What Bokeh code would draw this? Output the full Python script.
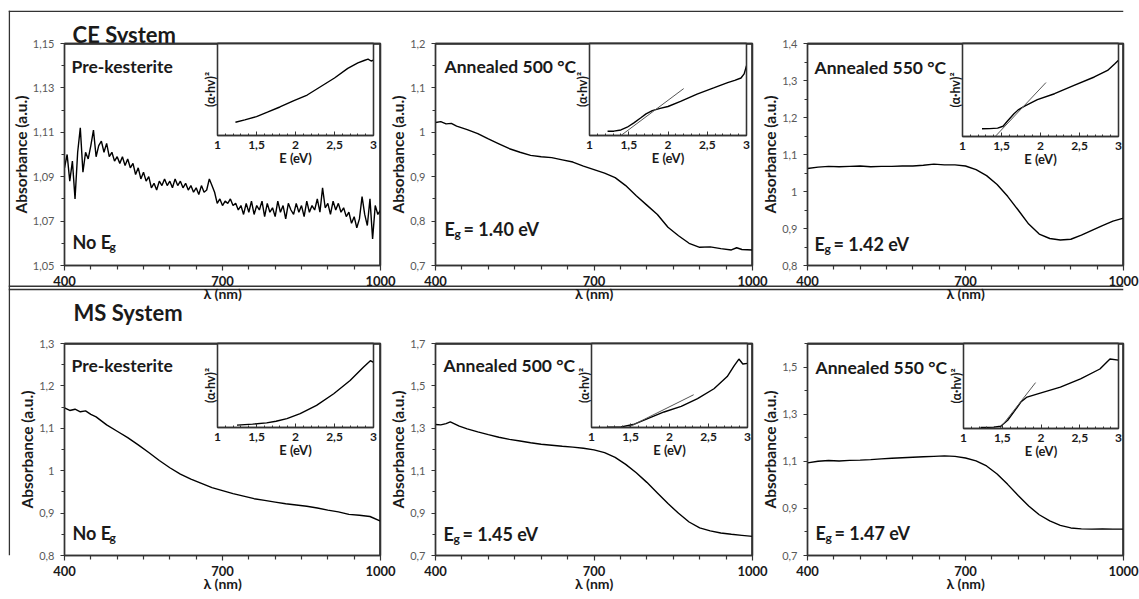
from bokeh.plotting import figure
from bokeh.models import (Range1d, FixedTicker, CustomJSTickFormatter, Label, GridBox, Span, LinearAxis)
from bokeh.embed import file_html
from bokeh.resources import INLINE

FONT = "Lato"
INK = "#1a1a1a"
AXC = "#333333"
GRAY = "#595959"

# ---------------- data: main spectra (wavelength nm, absorbance a.u.) ----------------
wl_ce_pre = list(range(400, 1001, 5))
ab_ce_pre = [
    1.094, 1.100, 1.088, 1.097, 1.080, 1.101, 1.112, 1.092, 1.101, 1.098,
    1.104, 1.111, 1.099, 1.104, 1.106, 1.101, 1.105, 1.099, 1.101, 1.097,
    1.099, 1.096, 1.099, 1.095, 1.098, 1.094, 1.096, 1.091, 1.094, 1.089,
    1.092, 1.088, 1.090, 1.085, 1.087, 1.084, 1.088, 1.086, 1.089, 1.086,
    1.088, 1.085, 1.089, 1.086, 1.088, 1.085, 1.087, 1.084, 1.086, 1.083,
    1.085, 1.082, 1.086, 1.083, 1.084, 1.089, 1.086, 1.083, 1.078, 1.080,
    1.077, 1.079, 1.078, 1.080, 1.077, 1.078, 1.075, 1.077, 1.073, 1.078,
    1.074, 1.079, 1.073, 1.077, 1.075, 1.079, 1.072, 1.078, 1.074, 1.076,
    1.072, 1.079, 1.074, 1.077, 1.071, 1.078, 1.075, 1.073, 1.078, 1.074,
    1.077, 1.072, 1.079, 1.074, 1.077, 1.075, 1.080, 1.074, 1.085, 1.076,
    1.078, 1.073, 1.079, 1.075, 1.078, 1.074, 1.076, 1.072, 1.074, 1.069,
    1.072, 1.067, 1.071, 1.081, 1.073, 1.068, 1.080, 1.062, 1.077, 1.073,
    1.075,
]

wl_ce_500 = [400, 410, 420, 430, 440, 460, 480, 500, 520, 540, 560, 580, 600, 620, 640, 660,
             680, 700, 720, 740, 760, 780, 800, 820, 840, 860, 880, 900, 920, 940, 960, 970, 980, 1000]
ab_ce_500 = [1.022, 1.024, 1.019, 1.020, 1.014, 1.006, 0.997, 0.985, 0.974, 0.963, 0.955, 0.948,
             0.945, 0.943, 0.938, 0.933, 0.924, 0.916, 0.908, 0.898, 0.880, 0.857, 0.836, 0.815,
             0.786, 0.767, 0.750, 0.741, 0.742, 0.738, 0.735, 0.740, 0.736, 0.735]

wl_ce_550 = [400, 420, 440, 460, 480, 500, 520, 540, 560, 580, 600, 620, 640, 660, 680, 700,
             720, 740, 760, 780, 800, 820, 840, 860, 880, 900, 920, 940, 960, 980, 1000]
ab_ce_550 = [1.062, 1.066, 1.068, 1.067, 1.068, 1.069, 1.067, 1.068, 1.068, 1.069, 1.069, 1.071,
             1.074, 1.072, 1.072, 1.069, 1.059, 1.043, 1.019, 0.987, 0.950, 0.912, 0.885, 0.873,
             0.869, 0.871, 0.882, 0.895, 0.908, 0.920, 0.928]

wl_ms_pre = [400, 410, 420, 430, 440, 450, 460, 480, 500, 520, 540, 560, 580, 600, 620, 640, 660,
             680, 700, 720, 740, 760, 780, 800, 820, 840, 860, 880, 900, 920, 940, 960, 980, 1000]
ab_ms_pre = [1.148, 1.142, 1.145, 1.139, 1.141, 1.133, 1.127, 1.108, 1.093, 1.078, 1.061, 1.043,
             1.024, 1.007, 0.992, 0.980, 0.970, 0.960, 0.953, 0.946, 0.940, 0.934, 0.930, 0.926,
             0.922, 0.919, 0.916, 0.912, 0.907, 0.903, 0.897, 0.895, 0.892, 0.881]

wl_ms_500 = [400, 410, 420, 428, 435, 445, 460, 480, 500, 520, 540, 560, 580, 600, 620, 640, 660,
             680, 700, 720, 740, 760, 780, 800, 820, 840, 860, 880, 900, 920, 940, 960, 980, 1000]
ab_ms_500 = [1.318, 1.316, 1.322, 1.330, 1.322, 1.310, 1.297, 1.283, 1.270, 1.258, 1.248, 1.240,
             1.232, 1.225, 1.220, 1.215, 1.211, 1.206, 1.198, 1.185, 1.163, 1.130, 1.090, 1.045,
             0.995, 0.945, 0.899, 0.858, 0.830, 0.816, 0.806, 0.800, 0.795, 0.790]

wl_ms_550 = [400, 420, 440, 460, 480, 500, 520, 540, 560, 580, 600, 620, 640, 660, 680, 700,
             720, 740, 760, 780, 800, 820, 840, 860, 880, 900, 920, 940, 960, 980, 1000]
ab_ms_550 = [1.093, 1.100, 1.103, 1.101, 1.104, 1.105, 1.107, 1.110, 1.113, 1.115, 1.117, 1.119,
             1.121, 1.123, 1.121, 1.114, 1.102, 1.080, 1.046, 1.002, 0.955, 0.910, 0.873, 0.847,
             0.828, 0.817, 0.813, 0.812, 0.813, 0.812, 0.812]

# ---------------- data: Tauc insets (E eV, (alpha*hv)^2 normalised) ----------------
e_ce_pre = [1.23, 1.35, 1.50, 1.64, 1.80, 1.98, 2.15, 2.32, 2.50, 2.67, 2.80, 2.88, 2.93, 2.97, 3.00]
t_ce_pre = [0.144, 0.170, 0.205, 0.253, 0.310, 0.379, 0.440, 0.530, 0.625, 0.730, 0.790, 0.815, 0.830, 0.810, 0.820]

e_ce_500 = [1.23, 1.31, 1.40, 1.48, 1.57, 1.65, 1.72, 1.80, 1.90, 2.00, 2.16, 2.37, 2.59, 2.76, 2.85, 2.93, 2.97, 3.00]
t_ce_500 = [0.047, 0.047, 0.060, 0.090, 0.140, 0.190, 0.235, 0.270, 0.295, 0.315, 0.370, 0.450, 0.520, 0.575, 0.600, 0.625, 0.670, 0.760]
tan_e_ce_500 = [1.15, 2.20]
tan_t_ce_500 = [-0.16, 0.51]

e_ce_550 = [1.25, 1.35, 1.45, 1.52, 1.58, 1.66, 1.72, 1.79, 1.96, 2.18, 2.43, 2.69, 2.86, 2.95, 3.00]
t_ce_550 = [0.083, 0.085, 0.090, 0.110, 0.170, 0.245, 0.290, 0.324, 0.396, 0.460, 0.550, 0.640, 0.710, 0.780, 0.820]
tan_e_ce_550 = [1.24, 2.07]
tan_t_ce_550 = [-0.16, 0.58]

e_ms_pre = [1.25, 1.45, 1.63, 1.75, 1.89, 2.06, 2.27, 2.49, 2.70, 2.87, 2.96, 3.00]
t_ms_pre = [0.028, 0.040, 0.055, 0.075, 0.106, 0.165, 0.264, 0.402, 0.559, 0.717, 0.795, 0.776]

e_ms_500 = [1.20, 1.38, 1.55, 1.72, 1.93, 2.15, 2.36, 2.57, 2.74, 2.83, 2.89, 2.94, 3.00]
t_ms_500 = [0.005, 0.008, 0.039, 0.106, 0.185, 0.252, 0.343, 0.461, 0.606, 0.736, 0.815, 0.756, 0.764]
tan_e_ms_500 = [1.25, 2.31]
tan_t_ms_500 = [-0.10, 0.39]

e_ms_550 = [1.22, 1.39, 1.48, 1.57, 1.65, 1.74, 1.82, 1.99, 2.25, 2.51, 2.76, 2.89, 3.00]
t_ms_550 = [0.012, 0.016, 0.027, 0.097, 0.195, 0.311, 0.370, 0.416, 0.486, 0.584, 0.700, 0.817, 0.805]
tan_e_ms_550 = [1.34, 1.93]
tan_t_ms_550 = [-0.15, 0.54]

# ---------------- texts and ticks ----------------
row_titles = ["CE System", "MS System"]
panel_titles = ["Pre-kesterite", "Annealed 500 °C", "Annealed 550 °C",
                "Pre-kesterite", "Annealed 500 °C", "Annealed 550 °C"]
eg_values = [None, "1.40", "1.42", None, "1.45", "1.47"]

x_major = [400, 700, 1000]
x_labels = ["400", "700", "1000"]
x_minor = [450, 500, 550, 600, 650, 750, 800, 850, 900, 950]

y_ticks = [
    ([1.05, 1.07, 1.09, 1.11, 1.13, 1.15], ["1,05", "1,07", "1,09", "1,11", "1,13", "1,15"], [1.06, 1.08, 1.10, 1.12, 1.14]),
    ([0.7, 0.8, 0.9, 1.0, 1.1, 1.2], ["0,7", "0,8", "0,9", "1", "1,1", "1,2"], [0.75, 0.85, 0.95, 1.05, 1.15]),
    ([0.8, 0.9, 1.0, 1.1, 1.2, 1.3, 1.4], ["0,8", "0,9", "1", "1,1", "1,2", "1,3", "1,4"], [0.85, 0.95, 1.05, 1.15, 1.25, 1.35]),
    ([0.8, 0.9, 1.0, 1.1, 1.2, 1.3], ["0,8", "0,9", "1", "1,1", "1,2", "1,3"], [0.85, 0.95, 1.05, 1.15, 1.25]),
    ([0.7, 0.9, 1.1, 1.3, 1.5, 1.7], ["0,7", "0,9", "1,1", "1,3", "1,5", "1,7"], [0.8, 1.0, 1.2, 1.4, 1.6]),
    ([0.7, 0.9, 1.1, 1.3, 1.5], ["0,7", "0,9", "1,1", "1,3", "1,5"], [0.8, 1.0, 1.2, 1.4, 1.6]),
]
y_ranges = [(1.05, 1.15), (0.7, 1.2), (0.8, 1.4), (0.8, 1.3), (0.7, 1.7), (0.7, 1.6)]
x_range_main = (400, 1000)

e_major = [1, 1.5, 2, 2.5, 3]
e_labels = ["1", "1,5", "2", "2,5", "3"]
e_minor = [1.1, 1.2, 1.3, 1.4, 1.6, 1.7, 1.8, 1.9, 2.1, 2.2, 2.3, 2.4, 2.6, 2.7, 2.8, 2.9]

W_TOTAL, H_TOTAL = 1139, 599


def fmt(tv, tl):
    return CustomJSTickFormatter(args=dict(tvals=list(tv), tlabs=list(tl)), code="""
        for (let i = 0; i < tvals.length; i++) {
            if (Math.abs(tick - tvals[i]) < 1e-6) { return tlabs[i]; }
        }
        return "";
    """)


def lab(text, x, y, dx, dy, size, color=INK):
    return Label(x=x, y=y, x_offset=dx, y_offset=dy, text=text, text_font=FONT,
                 text_font_size=size, text_font_style="bold", text_color=color,
                 text_baseline="alphabetic", text_align="left")


def style_common(p):
    p.border_fill_color = "white"
    p.border_fill_alpha = 0.0
    p.background_fill_color = "white"
    p.background_fill_alpha = 1.0
    p.outline_line_color = AXC
    p.outline_line_width = 1.3
    p.xgrid.visible = False
    p.ygrid.visible = False


def edge_axes(p):
    # plain top and right frame edges (no ticks, no labels)
    for loc in ("above", "right"):
        ax = LinearAxis(ticker=FixedTicker(ticks=[]), axis_line_color=AXC, axis_line_width=1.3,
                        major_tick_line_color=None, minor_tick_line_color=None,
                        major_label_text_font_size="0px", major_label_standoff=0,
                        major_tick_out=0, minor_tick_out=0)
        p.add_layout(ax, loc)


def main_panel(rect, frame, idx, wl, ab):
    fx0, fy0, fx1, fy1 = rect
    l, t, r, b = frame
    xa0, xa1 = x_range_main
    y0, y1 = y_ranges[idx]
    yt, yl, ym = y_ticks[idx]
    p = figure(width=fx1 - fx0, height=fy1 - fy0, x_range=Range1d(xa0, xa1), y_range=Range1d(y0, y1),
               output_backend="svg", toolbar_location=None,
               min_border_left=l - fx0, min_border_right=fx1 - r,
               min_border_top=t - fy0, min_border_bottom=fy1 - b)
    style_common(p)

    xa = p.xaxis[0]
    xa.ticker = FixedTicker(ticks=x_major, minor_ticks=x_minor)
    xa.formatter = fmt(x_major, x_labels)
    xa.axis_label = "λ (nm)"
    xa.axis_label_text_font = FONT
    xa.axis_label_text_font_size = "14px"
    xa.axis_label_text_font_style = "bold"
    xa.axis_label_text_color = INK
    xa.axis_label_standoff = -4
    xa.major_label_text_font = FONT
    xa.major_label_text_font_size = "13px"
    xa.major_label_text_font_style = "bold"
    xa.major_label_text_color = INK
    xa.major_label_standoff = 5
    xa.major_tick_in = 0
    xa.major_tick_out = 5
    xa.minor_tick_in = 0
    xa.minor_tick_out = 4
    xa.axis_line_color = AXC
    xa.axis_line_width = 1.5
    xa.major_tick_line_color = AXC
    xa.minor_tick_line_color = AXC
    xa.major_tick_line_width = 1.2
    xa.minor_tick_line_width = 1.2

    ya = p.yaxis[0]
    ya.ticker = FixedTicker(ticks=yt, minor_ticks=ym)
    ya.formatter = fmt(yt, yl)
    ya.axis_label = "Absorbance (a.u.)"
    ya.axis_label_text_font = FONT
    ya.axis_label_text_font_size = "15.5px"
    ya.axis_label_text_font_style = "bold"
    ya.axis_label_text_color = INK
    ya.axis_label_standoff = 0
    ya.major_label_text_font = FONT
    ya.major_label_text_font_size = "11px"
    ya.major_label_text_color = GRAY
    ya.major_label_standoff = 6
    ya.major_tick_in = 0
    ya.major_tick_out = 4
    ya.minor_tick_in = 0
    ya.minor_tick_out = 3
    ya.axis_line_color = AXC
    ya.axis_line_width = 1.5
    ya.major_tick_line_color = AXC
    ya.minor_tick_line_color = AXC

    edge_axes(p)

    # top and right frame edges, kept just inside the plotting area so they are not clipped
    ex = (xa1 - xa0) / (r - l) * 0.7
    ey = (y1 - y0) / (b - t) * 0.7
    p.segment(x0=[xa0, xa1 - ex], y0=[y1 - ey, y0], x1=[xa1, xa1 - ex], y1=[y1 - ey, y1],
              line_color=AXC, line_width=1.3)

    p.line(wl, ab, line_color="black", line_width=1.4)

    tdx = [7, 9, 7, 7, 8, 8][idx]
    tdy = [23, 23, 24, 22, 22, 24][idx]
    p.add_layout(lab(panel_titles[idx], xa0, y1, tdx, -tdy, "17.5px"))

    edx = [8, 9, 7, 8, 8, 8][idx]
    edy = [24, 37, 22, 23, 22, 23][idx]
    if eg_values[idx] is None:
        p.add_layout(lab("No E", xa0, y0, edx, edy, "18px"))
        p.add_layout(lab("g", xa0, y0, edx + 37, edy - 5, "12px"))
    else:
        p.add_layout(lab("E", xa0, y0, edx, edy, "18px"))
        p.add_layout(lab("g", xa0, y0, edx + 10, edy - 5, "12px"))
        p.add_layout(lab("= " + eg_values[idx] + " eV", xa0, y0, edx + 19, edy, "18px"))
    return p


def inset_panel(frame, E, T, tE=None, tT=None):
    l, t, r, b = frame
    ml, mr, mt, mb = 22, 8, 2, 38
    p = figure(width=(r - l) + ml + mr, height=(b - t) + mt + mb, x_range=Range1d(1, 3), y_range=Range1d(0, 1),
               output_backend="svg", toolbar_location=None,
               min_border_left=ml, min_border_right=mr, min_border_top=mt, min_border_bottom=mb)
    style_common(p)

    xa = p.xaxis[0]
    xa.ticker = FixedTicker(ticks=e_major, minor_ticks=e_minor)
    xa.formatter = fmt(e_major, e_labels)
    xa.axis_label = "E (eV)"
    xa.axis_label_text_font = FONT
    xa.axis_label_text_font_size = "13px"
    xa.axis_label_text_font_style = "bold"
    xa.axis_label_text_color = INK
    xa.axis_label_standoff = -2
    xa.major_label_text_font = FONT
    xa.major_label_text_font_size = "12px"
    xa.major_label_text_font_style = "bold"
    xa.major_label_text_color = INK
    xa.major_label_standoff = 5
    xa.major_tick_in = 4
    xa.major_tick_out = 0
    xa.minor_tick_in = 2
    xa.minor_tick_out = 0
    xa.axis_line_color = AXC
    xa.axis_line_width = 1.3
    xa.major_tick_line_color = AXC
    xa.minor_tick_line_color = AXC

    ya = p.yaxis[0]
    ya.ticker = FixedTicker(ticks=[])
    ya.axis_label = "(α·hv)²"
    ya.axis_label_text_font = FONT
    ya.axis_label_text_font_size = "12.5px"
    ya.axis_label_text_font_style = "bold"
    ya.axis_label_text_color = INK
    ya.axis_label_standoff = 0
    ya.axis_line_color = AXC
    ya.axis_line_width = 1.3

    edge_axes(p)

    p.line(E, T, line_color="black", line_width=1.4)
    if tE is not None:
        p.line(tE, tT, line_color="#555555", line_width=1.0)
    return p, (l - ml, t - mt, r + mr, b + mb)


# ---------------- background boxes ----------------
# frame of this figure starts at page (8, 10); y measured upward from the page bottom
bg = figure(width=W_TOTAL, height=H_TOTAL, x_range=Range1d(8, W_TOTAL), y_range=Range1d(0, H_TOTAL - 10),
            x_axis_type=None, y_axis_type=None, output_backend="svg", toolbar_location=None,
            min_border_left=8, min_border_right=0, min_border_top=10, min_border_bottom=0)
bg.outline_line_color = None
bg.border_fill_color = "white"
bg.background_fill_color = "white"
for loc in [H_TOTAL - 10.8, H_TOTAL - 308, H_TOTAL - 311.5]:
    bg.add_layout(Span(location=loc, dimension="width", line_color="#333333", line_width=1.5))
bg.add_layout(Span(location=8.8, dimension="height", line_color="#333333", line_width=1.5))
bg.add_layout(Label(x=73, y=H_TOTAL - 36, text=row_titles[0], text_font=FONT, text_font_size="22px",
                    text_font_style="bold", text_color=INK, text_baseline="alphabetic"))
bg.add_layout(Label(x=74, y=H_TOTAL - 336, text=row_titles[1], text_font=FONT, text_font_size="22px",
                    text_font_style="bold", text_color=INK, text_baseline="alphabetic"))

# ---------------- panels (page pixel rectangles) ----------------
mains = [
    ((8, 34, 408, 307), (61, 43, 380, 266), wl_ce_pre, ab_ce_pre),
    ((384, 34, 778, 307), (432, 43, 752, 265), wl_ce_500, ab_ce_500),
    ((758, 34, 1139, 307), (806, 43, 1123, 265), wl_ce_550, ab_ce_550),
    ((8, 334, 408, 599), (62, 343, 380, 556), wl_ms_pre, ab_ms_pre),
    ((384, 334, 778, 599), (435, 343, 753, 555), wl_ms_500, ab_ms_500),
    ((758, 334, 1139, 599), (806, 343, 1124, 556), wl_ms_550, ab_ms_550),
]
insets = [
    ((217, 43, 373, 135), e_ce_pre, t_ce_pre, None, None),
    ((589, 43, 746, 135), e_ce_500, t_ce_500, tan_e_ce_500, tan_t_ce_500),
    ((962, 43, 1118, 136), e_ce_550, t_ce_550, tan_e_ce_550, tan_t_ce_550),
    ((217, 343, 373, 427), e_ms_pre, t_ms_pre, None, None),
    ((591, 343, 747, 427), e_ms_500, t_ms_500, tan_e_ms_500, tan_t_ms_500),
    ((963, 343, 1118, 428), e_ms_550, t_ms_550, tan_e_ms_550, tan_t_ms_550),
]

items = [(bg, (0, 0, W_TOTAL, H_TOTAL))]
for i, (rect, frame, wl, ab) in enumerate(mains):
    items.append((main_panel(rect, frame, i, wl, ab), rect))
for frame, E, T, tE, tT in insets:
    fig, rect = inset_panel(frame, E, T, tE, tT)
    items.append((fig, rect))

xs = sorted({0, W_TOTAL} | {r[0] for _, r in items} | {r[2] for _, r in items})
ys = sorted({0, H_TOTAL} | {r[1] for _, r in items} | {r[3] for _, r in items})
cols = ["%dpx" % (xs[i + 1] - xs[i]) for i in range(len(xs) - 1)]
rows = ["%dpx" % (ys[i + 1] - ys[i]) for i in range(len(ys) - 1)]
children = []
for fig, (x0, y0, x1, y1) in items:
    r0, c0 = ys.index(y0), xs.index(x0)
    children.append((fig, r0, c0, ys.index(y1) - r0, xs.index(x1) - c0))

grid = GridBox(children=children, rows=rows, cols=cols, spacing=0)

with open("out.html", "w", encoding="utf-8") as f:
    f.write(file_html(grid, INLINE, "Absorbance spectra"))
